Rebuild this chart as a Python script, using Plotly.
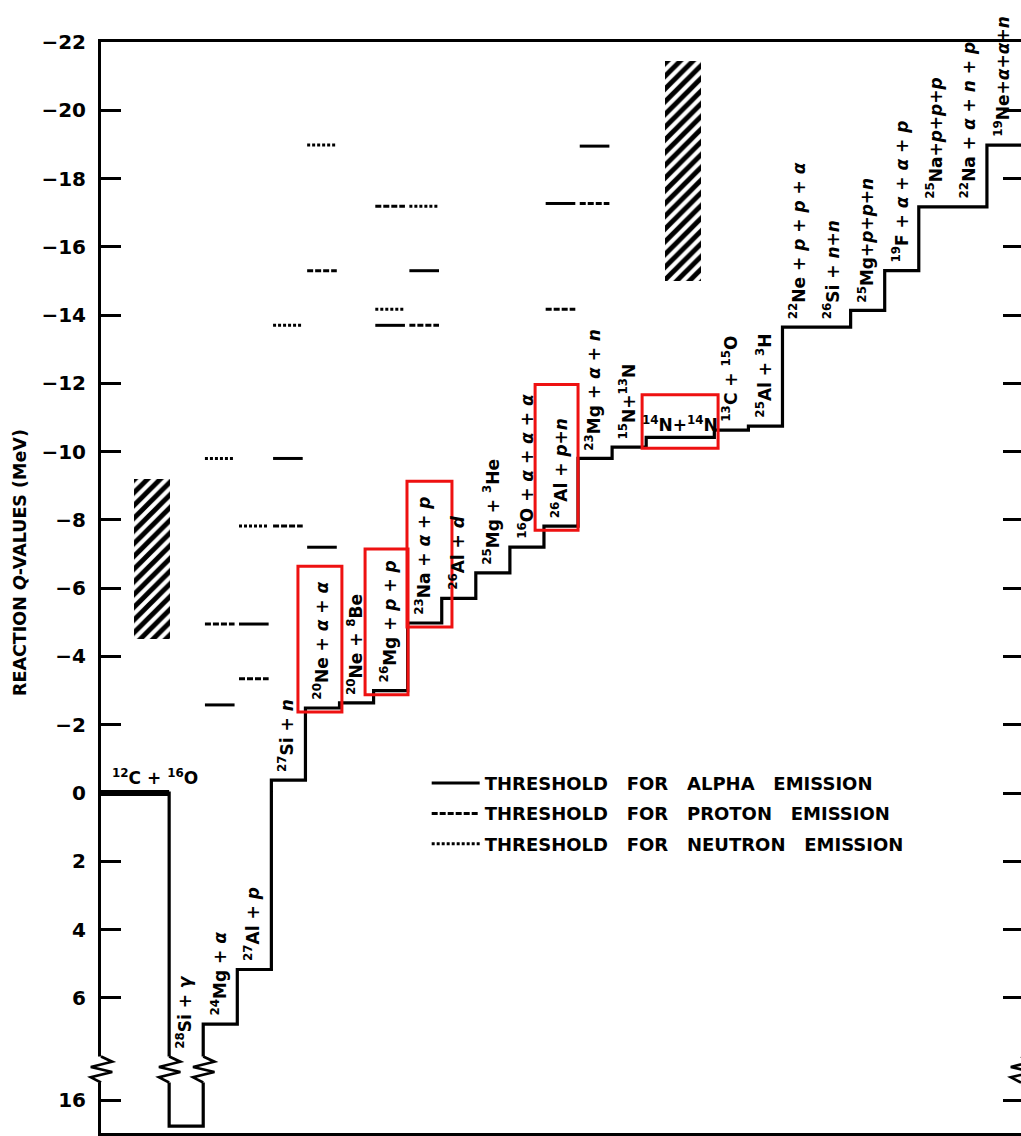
import plotly.graph_objects as go

# ---------------- data ----------------
channel_labels = [
    "<sup>12</sup>C + <sup>16</sup>O",
    "<sup>28</sup>Si + <i>γ</i>",
    "<sup>24</sup>Mg + <i>α</i>",
    "<sup>27</sup>Al + <i>p</i>",
    "<sup>27</sup>Si + <i>n</i>",
    "<sup>20</sup>Ne + <i>α</i> + <i>α</i>",
    "<sup>20</sup>Ne + <sup>8</sup>Be",
    "<sup>26</sup>Mg + <i>p</i> + <i>p</i>",
    "<sup>23</sup>Na + <i>α</i> + <i>p</i>",
    "<sup>26</sup>Al + <i>d</i>",
    "<sup>25</sup>Mg + <sup>3</sup>He",
    "<sup>16</sup>O + <i>α</i> + <i>α</i> + <i>α</i>",
    "<sup>26</sup>Al + <i>p</i>+<i>n</i>",
    "<sup>23</sup>Mg + <i>α</i> + <i>n</i>",
    "<sup>15</sup>N+<sup>13</sup>N",
    "<sup>14</sup>N+<sup>14</sup>N",
    "<sup>13</sup>C + <sup>15</sup>O",
    "<sup>25</sup>Al + <sup>3</sup>H",
    "<sup>22</sup>Ne + <i>p</i> + <i>p</i> + <i>α</i>",
    "<sup>26</sup>Si + <i>n</i>+<i>n</i>",
    "<sup>25</sup>Mg+<i>p</i>+<i>p</i>+<i>n</i>",
    "<sup>19</sup>F + <i>α</i> + <i>α</i> + <i>p</i>",
    "<sup>25</sup>Na+<i>p</i>+<i>p</i>+<i>p</i>",
    "<sup>22</sup>Na + <i>α</i> + <i>n</i> + <i>p</i>",
    "<sup>19</sup>Ne+<i>α</i>+<i>α</i>+<i>n</i>",
]
channel_q = [0.0, 16.76, 6.77, 5.17, -0.38, -2.49, -2.64, -3.00, -4.98, -5.70,
             -6.45, -7.20, -7.82, -9.80, -10.13, -10.42, -10.63, -10.75, -13.65,
             -13.65, -14.14, -15.30, -17.17, -17.17, -18.98]
channel_span = [2, 1, 1, 1, 1, 1, 1, 1, 1, 1, 1, 1, 1, 1, 1, 2, 1, 1, 1, 1, 1, 1, 1, 1, 1]
horizontal_label_channels = [0, 15]
highlighted_channels = [5, 7, 8, 12, 15]

# threshold marks: channel index and Q level (MeV)
alpha_thr_channel = [2, 3, 4, 5, 7, 8, 12, 13]
alpha_thr_q = [-2.58, -4.95, -9.80, -7.20, -13.70, -15.30, -17.27, -18.95]
proton_thr_channel = [2, 3, 4, 5, 7, 8, 12, 13]
proton_thr_q = [-4.95, -3.35, -7.82, -15.30, -17.19, -13.70, -14.17, -17.27]
neutron_thr_channel = [2, 3, 4, 5, 7, 8]
neutron_thr_q = [-9.80, -7.82, -13.70, -18.98, -14.17, -17.19]

# hatched regions
hatch_x = [1.5, 17.07]
hatch_q_low = [-4.5, -15.0]
hatch_q_high = [-9.2, -21.45]

tick_q = [-22, -20, -18, -16, -14, -12, -10, -8, -6, -4, -2, 0, 2, 4, 6, 16]

# ---------------- helpers / styles ----------------
BREAK_SHIFT = 7.0           # broken axis: values beyond the break are shifted up
BREAK_BAND = (7.72, 8.48)   # zigzag band in display units


def disp(q):
    return q if q < 10 else q - BREAK_SHIFT


starts = [0]
for s in channel_span[:-1]:
    starts.append(starts[-1] + s)
x_end = starts[-1] + channel_span[-1]

FONT = "DejaVu Sans"
fig = go.Figure()

# hatched regions
fig.add_trace(go.Bar(
    x=hatch_x, base=[disp(v) for v in hatch_q_low],
    y=[disp(h) - disp(l) for h, l in zip(hatch_q_high, hatch_q_low)],
    width=1.05, opacity=1,
    marker=dict(color="white", line_width=0, opacity=1,
                pattern=dict(shape="/", fgcolor="black", bgcolor="white", fgopacity=1,
                             size=9, solidity=0.55)),
    showlegend=False, hoverinfo="skip"))

# step line (reaction Q-values)
fig.add_trace(go.Scatter(
    x=starts + [x_end], y=[disp(q) for q in channel_q] + [disp(channel_q[-1])],
    mode="lines", line=dict(color="black", width=3.2, shape="hv"),
    showlegend=False, hoverinfo="skip"))
# entrance channel (bold)
fig.add_trace(go.Scatter(
    x=[starts[0], starts[0] + channel_span[0]], y=[disp(channel_q[0])] * 2,
    mode="lines", line=dict(color="black", width=6),
    showlegend=False, hoverinfo="skip"))


def seg(chs, qs):
    xs, ys = [], []
    for c, q in zip(chs, qs):
        xs += [starts[c] + 0.05, starts[c] + 0.92, None]
        ys += [disp(q), disp(q), None]
    return xs, ys


gap = "\u00a0\u00a0\u00a0"
for name, chs, qs, dash, grp in [
    ("ALPHA", alpha_thr_channel, alpha_thr_q, "solid", "a"),
    ("PROTON", proton_thr_channel, proton_thr_q, "6px,2px", "b"),
    ("NEUTRON", neutron_thr_channel, neutron_thr_q, "3px,2px", "c"),
]:
    xs, ys = seg(chs, qs)
    fig.add_trace(go.Scatter(
        x=xs, y=ys, mode="lines", line=dict(color="black", width=3, dash=dash),
        name=f"THRESHOLD{gap}FOR{gap}{name}{gap}EMISSION", legendgroup=grp,
        hoverinfo="skip"))

# dummy trace for right-side ticks
fig.add_trace(go.Scatter(x=[None], y=[None], yaxis="y2", showlegend=False, hoverinfo="skip"))

# axis breaks: white mask + zigzag (paper x so they are not clipped)
break_x = [0, starts[1], starts[2], x_end]
zig_dx = [0, 0.33, -0.3, 0.33, -0.3, 0]
for bx in break_x:
    fig.add_shape(type="line", xref="paper", yref="y", x0=bx / x_end, x1=bx / x_end,
                  y0=BREAK_BAND[0], y1=BREAK_BAND[1], line=dict(color="white", width=9),
                  layer="above")
for bx in break_x:
    n = len(zig_dx)
    pts = []
    for i, dx in enumerate(zig_dx):
        px = (bx + dx) / x_end
        py = BREAK_BAND[0] + (BREAK_BAND[1] - BREAK_BAND[0]) * i / (n - 1)
        pts.append(f"{px:.5f},{py:.4f}")
    fig.add_shape(type="path", xref="paper", yref="y", path="M" + " L".join(pts),
                  line=dict(color="black", width=2.6), layer="above")

# channel labels
for i, (lab, q) in enumerate(zip(channel_labels, channel_q)):
    if i in horizontal_label_channels:
        if i == 0:
            fig.add_annotation(x=starts[i] + 0.25, y=disp(q) - 0.1, text=lab, showarrow=False,
                               xanchor="left", yanchor="bottom",
                               font=dict(family=FONT, size=17, color="black", weight="bold"))
        else:
            fig.add_annotation(x=starts[i] + channel_span[i] / 2, y=disp(q) - 0.02, text=lab,
                               showarrow=False, xanchor="center", yanchor="bottom",
                               font=dict(family=FONT, size=17, color="black", weight="bold"))
    else:
        base = min(disp(q), BREAK_BAND[0]) - 0.18
        fig.add_annotation(x=starts[i] + 0.45, y=base, text=lab, showarrow=False,
                           textangle=-90, xanchor="center", yanchor="bottom",
                           font=dict(family=FONT, size=17, color="black", weight="bold"))

# red highlight boxes
box_pad_left = [0.22, 0.25, 0.02, 0.26, 0.12]
box_pad_right = [0.07, 0.01, 0.3, 0.0, 0.11]
for k, c in enumerate(highlighted_channels):
    q = disp(channel_q[c])
    if c in horizontal_label_channels:
        y0, y1 = q + 0.32, q - 1.25
    else:
        y0, y1 = q + 0.12, q - 4.15
    fig.add_shape(type="rect", x0=starts[c] - box_pad_left[k],
                  x1=starts[c] + channel_span[c] + box_pad_right[k],
                  y0=y0, y1=y1, line=dict(color="#ee1111", width=3), layer="above")

# axis title
fig.add_annotation(xref="paper", yref="paper", x=-0.088, y=0.5225, xanchor="center",
                   yanchor="middle", text="REACTION <i>Q</i>-VALUES (MeV)", textangle=-90,
                   showarrow=False,
                   font=dict(family=FONT, size=17.5, color="black", weight="bold"))

tick_disp = [disp(v) for v in tick_q]
tick_text = [("\u2212" + str(-v)) if v < 0 else str(v) for v in tick_q]
yr = [9.96, -22]

fig.update_layout(
    width=1021, height=1136,
    margin=dict(l=101, r=0, t=42, b=3),
    paper_bgcolor="white", plot_bgcolor="white",
    bargap=0, barmode="overlay",
    xaxis=dict(range=[0, x_end], showline=True, mirror=True, linecolor="black", linewidth=3,
               showticklabels=False, ticks="", showgrid=False, zeroline=False,
               layer="below traces"),
    yaxis=dict(range=yr, tickvals=tick_disp, ticktext=tick_text, ticks="inside", ticklen=20,
               tickwidth=2.5, tickcolor="black", showline=True, linecolor="black", linewidth=3,
               showgrid=False, zeroline=False, layer="below traces",
               tickfont=dict(family=FONT, size=20, color="black", weight="bold"),
               ticklabelstandoff=8),
    yaxis2=dict(range=yr, overlaying="y", side="right", tickvals=tick_disp, ticks="inside",
                ticklen=18, tickwidth=2.5, tickcolor="black", showticklabels=False,
                showline=False, showgrid=False, zeroline=False),
    legend=dict(x=0.354, y=0.3375, xanchor="left", yanchor="top", bgcolor="rgba(0,0,0,0)",
                borderwidth=0, itemwidth=48, tracegroupgap=4,
                font=dict(family=FONT, size=18, color="black", weight="bold")),
    showlegend=True,
)

fig.write_html("out.html")
